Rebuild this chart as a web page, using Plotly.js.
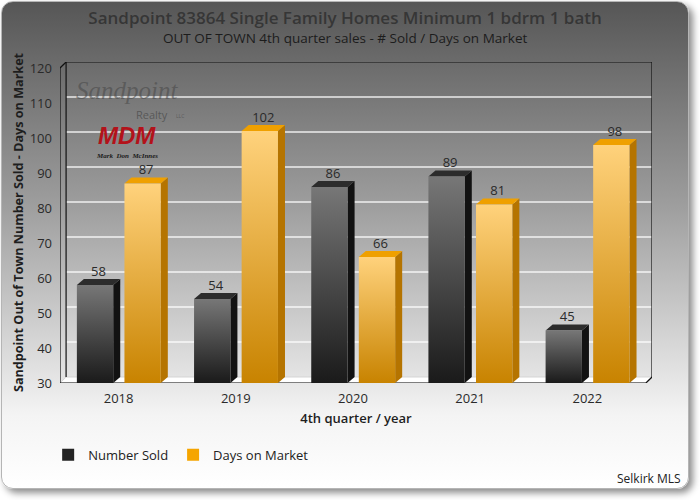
<!DOCTYPE html>
<html>
<head>
<meta charset="utf-8">
<script src="https://cdn.plot.ly/plotly-3.0.1.min.js"></script>
<style>
  html, body { margin: 0; padding: 0; background: #ffffff; }
  #card {
    position: absolute; left: 1px; top: 1px; width: 686px; height: 486px;
    border: 1px solid #b5b5b5; border-radius: 12px;
    background: linear-gradient(#565656 0%, #9e9e9e 42%, #f4f4f4 85%, #ffffff 100%);
    box-shadow: 4px 4px 7px rgba(0, 0, 0, 0.45);
  }
  #chart { position: absolute; left: 0; top: 0; width: 700px; height: 500px; }
</style>
</head>
<body>
<div id="card"></div>
<div id="chart"></div>
<script>
// data
var years = ['2018', '2019', '2020', '2021', '2022'];
var numberSold = [58, 54, 86, 89, 45];
var daysOnMarket = [87, 102, 66, 81, 98];
var yTicks = [30, 40, 50, 60, 70, 80, 90, 100, 110, 120];

var W = 700, H = 500;
var FONT = 'Open Sans';
var yMin = 30, yMax = 120;

// fake 3d depth (axis units)
var WALL_DX = 0.052, WALL_DY = 1.7;
var BAR_DX = 0.06, BAR_DY = 1.7;
var BAR_W = 0.31;
var OFFSETS = [-0.356, 0.05];

var xIdx = years.map(function(y, i) { return i; });
var xLo = -0.5, xHi = years.length - 0.5;

var shapes = [];
function poly(pts, fill, line) {
    var d = pts.map(function(p, i) { return (i ? 'L' : 'M') + p[0] + ',' + p[1]; }).join(' ') + ' Z';
    shapes.push({
        type: 'path', xref: 'x', yref: 'y', layer: 'below', path: d,
        fillcolor: fill, line: line || { width: 0 }
    });
}
function seg(x0, y0, x1, y1, color, width) {
    shapes.push({
        type: 'line', xref: 'x', yref: 'y', layer: 'below',
        x0: x0, y0: y0, x1: x1, y1: y1,
        line: { color: color, width: width }
    });
}

// floor
poly([[xLo, yMin], [xHi, yMin], [xHi + WALL_DX, yMin + WALL_DY], [xLo + WALL_DX, yMin + WALL_DY]],
     '#ffffff', { color: '#cfcfcf', width: 0.8 });
// grid lines on the back wall
yTicks.forEach(function(t) {
    if (t > yMin && t < yMax) seg(xLo + WALL_DX, t + WALL_DY, xHi + WALL_DX, t + WALL_DY, 'rgba(255,255,255,0.85)', 1.6);
});
// box outline
seg(xLo, yMin, xLo, yMax, '#111', 1.2);
seg(xLo, yMax, xLo + WALL_DX, yMax + WALL_DY, '#111', 1.2);
seg(xLo + WALL_DX, yMin + WALL_DY, xLo + WALL_DX, yMax + WALL_DY, '#111', 1.2);
seg(xLo + WALL_DX, yMax + WALL_DY, xHi + WALL_DX, yMax + WALL_DY, '#111', 1.2);
seg(xHi + WALL_DX, yMin + WALL_DY, xHi + WALL_DX, yMax + WALL_DY, '#111', 1.2);
seg(xLo, yMin, xHi, yMin, '#111', 1.2);
seg(xHi, yMin, xHi + WALL_DX, yMin + WALL_DY, '#111', 1.2);

// side and top faces of each bar
function faces(vals, off, sideCol, topCol) {
    vals.forEach(function(v, i) {
        var xl = i + off, xr = xl + BAR_W;
        poly([[xr, yMin], [xr, v], [xr + BAR_DX, v + BAR_DY], [xr + BAR_DX, yMin + BAR_DY]], sideCol);
        poly([[xl, v], [xr, v], [xr + BAR_DX, v + BAR_DY], [xl + BAR_DX, v + BAR_DY]], topCol);
    });
}
faces(numberSold, OFFSETS[0], '#121212', '#2c2c2c');
faces(daysOnMarket, OFFSETS[1], '#b57400', '#efa000');

function labelX(off) {
    return xIdx.map(function(i) { return i + off + BAR_W / 2 + BAR_DX / 2; });
}
function labelY(vals) {
    return vals.map(function(v) { return v + BAR_DY; });
}

var data = [
    {
        type: 'bar', name: 'Number Sold', x: xIdx, y: numberSold,
        width: BAR_W, offset: OFFSETS[0],
        marker: { color: '#232323', line: { width: 0 } }, hoverinfo: 'none'
    },
    {
        type: 'bar', name: 'Days on Market', x: xIdx, y: daysOnMarket,
        width: BAR_W, offset: OFFSETS[1],
        marker: { color: '#f5a500', line: { width: 0 } }, hoverinfo: 'none'
    },
    {
        type: 'scatter', mode: 'text', x: labelX(OFFSETS[0]), y: labelY(numberSold),
        text: numberSold.map(String), textposition: 'top center',
        textfont: { family: FONT, size: 13, color: '#2a2a2a' },
        cliponaxis: false, showlegend: false, hoverinfo: 'skip'
    },
    {
        type: 'scatter', mode: 'text', x: labelX(OFFSETS[1]), y: labelY(daysOnMarket),
        text: daysOnMarket.map(String), textposition: 'top center',
        textfont: { family: FONT, size: 13, color: '#2a2a2a' },
        cliponaxis: false, showlegend: false, hoverinfo: 'skip'
    }
];

var margin = { l: 60, r: 48, t: 62, b: 117, pad: 0 };

var layout = {
    width: W, height: H,
    margin: margin,
    paper_bgcolor: 'rgba(0,0,0,0)',
    plot_bgcolor: 'rgba(0,0,0,0)',
    font: { family: FONT, size: 13, color: '#2a2a2a' },
    title: {
        text: 'Sandpoint 83864 Single Family Homes Minimum 1 bdrm 1 bath',
        font: { family: FONT, size: 17, weight: 600, color: '#363636' },
        x: 0.493, xref: 'container', y: 1 - 18 / H, yref: 'container', yanchor: 'middle'
    },
    barmode: 'group',
    showlegend: true,
    legend: {
        orientation: 'h', x: -0.02, xanchor: 'left', y: -0.224, yanchor: 'middle',
        font: { family: FONT, size: 13, color: '#222' },
        bgcolor: 'rgba(0,0,0,0)', itemwidth: 30
    },
    xaxis: {
        range: [xLo, xHi + WALL_DX],
        tickmode: 'array', tickvals: xIdx, ticktext: years,
        showgrid: false, zeroline: false, showline: false, ticks: '',
        ticklabelstandoff: 6,
        tickfont: { family: FONT, size: 13, color: '#2a2a2a' },
        title: { text: '4th quarter / year', standoff: 7,
                 font: { family: FONT, size: 13, weight: 600, color: '#1e1e1e' } },
        fixedrange: true
    },
    yaxis: {
        range: [yMin, yMax + WALL_DY],
        tickmode: 'array', tickvals: yTicks,
        showgrid: false, zeroline: false, showline: false, ticks: '',
        ticklabelstandoff: 7,
        tickfont: { family: FONT, size: 13, color: '#2a2a2a' },
        title: { text: 'Sandpoint Out of Town Number Sold - Days on Market', standoff: 3,
                 font: { family: FONT, size: 12.6, weight: 'bold', color: '#1e1e1e' } },
        fixedrange: true
    },
    shapes: shapes,
    annotations: [
        { text: 'OUT OF TOWN 4th quarter sales - # Sold / Days on Market', xref: 'paper', yref: 'paper',
          x: 0.481, y: 1.0748, xanchor: 'center', yanchor: 'middle', showarrow: false,
          font: { family: FONT, size: 13.5, color: '#1c1c1c' } },
        { text: 'Selkirk MLS', xref: 'paper', yref: 'paper',
          x: 1.052, y: -0.299, xanchor: 'right', yanchor: 'middle', showarrow: false,
          font: { family: FONT, size: 12, color: '#222' } },
        // watermark logo
        { text: '<i>Sandpoint</i>', xref: 'paper', yref: 'paper', x: 0.113, y: 0.9097,
          xanchor: 'center', yanchor: 'middle', showarrow: false, borderpad: 0,
          font: { family: 'Liberation Serif', size: 25, color: 'rgba(70,70,70,0.55)' } },
        { text: 'Realty', xref: 'paper', yref: 'paper', x: 0.155, y: 0.838,
          xanchor: 'center', yanchor: 'middle', showarrow: false, borderpad: 0,
          font: { family: FONT, size: 11, color: 'rgba(75,75,75,0.75)' } },
        { text: 'LLC', xref: 'paper', yref: 'paper', x: 0.203, y: 0.832,
          xanchor: 'center', yanchor: 'middle', showarrow: false, borderpad: 0,
          font: { family: FONT, size: 5, color: 'rgba(75,75,75,0.7)' } },
        { text: '<b><i>MDM</i></b>', xref: 'paper', yref: 'paper', x: 0.113, y: 0.7695,
          xanchor: 'center', yanchor: 'middle', showarrow: false, borderpad: 0,
          font: { family: 'Liberation Sans', size: 24, color: '#b3121a' } },
        { text: '<b><i>Mark  Don  McInnes</i></b>', xref: 'paper', yref: 'paper', x: 0.113, y: 0.7087,
          xanchor: 'center', yanchor: 'middle', showarrow: false, borderpad: 0,
          font: { family: 'Liberation Serif', size: 7, color: '#1a1a1a' } }
    ]
};

var gradDark = ['#777777', '#1a1a1a'];
var gradOrange = ['#ffd27c', '#c88300'];

Plotly.newPlot('chart', data, layout, { staticPlot: true }).then(function(gd) {
    // vertical gradient on the bar fronts, ending at the floor
    var ns = 'http://www.w3.org/2000/svg';
    var defs = gd.querySelector('svg.main-svg defs');
    var plotH = H - margin.t - margin.b;
    var traces = gd.querySelectorAll('.barlayer .trace');
    traces.forEach(function(tr, ti) {
        var pal = ti === 0 ? gradDark : gradOrange;
        tr.querySelectorAll('path').forEach(function(p, pi) {
            var bb = p.getBBox();
            var frac = Math.max(0, Math.min(1, (plotH - bb.y) / bb.height));
            var id = 'bargrad' + ti + '_' + pi;
            var g = document.createElementNS(ns, 'linearGradient');
            g.setAttribute('id', id);
            g.setAttribute('x1', '0'); g.setAttribute('y1', '0');
            g.setAttribute('x2', '0'); g.setAttribute('y2', '1');
            [[0, pal[0]], [frac, pal[1]]].forEach(function(s) {
                var st = document.createElementNS(ns, 'stop');
                st.setAttribute('offset', s[0]);
                st.setAttribute('stop-color', s[1]);
                g.appendChild(st);
            });
            defs.appendChild(g);
            p.style.fill = 'url(#' + id + ')';
        });
    });
});
</script>
</body>
</html>
